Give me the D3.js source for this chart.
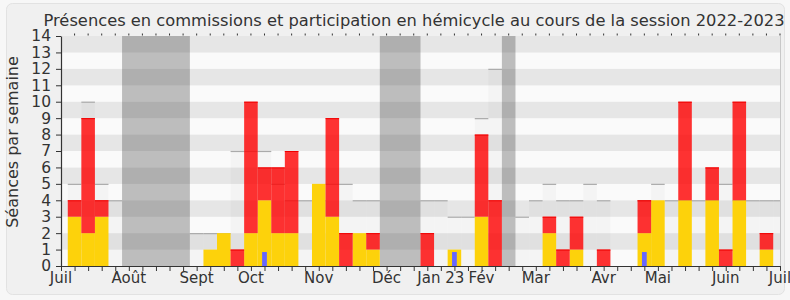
<!DOCTYPE html>
<html>
<head>
<meta charset="utf-8">
<script src="https://cdn.jsdelivr.net/npm/d3@7/dist/d3.min.js"></script>
<style>
  html, body { margin: 0; padding: 0; background: #f7f7f7; }
  svg { display: block; font-family: "DejaVu Sans", sans-serif; }
</style>
</head>
<body>
<svg id="chart" width="790" height="300"></svg>
<script>
// ---- data (one entry per week, index 0 = first week of July 2022) ----
const title = "Présences en commissions et participation en hémicycle au cours de la session 2022-2023";
const yLabel = "Séances par semaine";
const weeks = d3.range(54);
const commission = [0,3,2,3,0, 0,0,0,0,0, 0,1,2,0,2,4,2,2,0,5,3,0,2,1, 0,0,0, 0,0,1,0,3,0, 0, 0,0,2,0,1,0,0,0,0,2,4,0,4,0,4,0,4,0,1,0];
const hemicycle  = [0,1,7,1,0, 0,0,0,0,0, 0,0,0,1,8,2,4,5,0,0,6,2,0,1, 0,0,0, 2,0,0,0,5,4, 0, 0,0,1,1,2,0,1,0,0,2,0,0,6,0,2,1,6,0,1,0];
const participation = [0,0,0,0,0, 0,0,0,0,0, 0,0,0,0,0,0.85,0,0,0,0,0,0,0,0, 0,0,0, 0,0,0.85,0,0,0, 0, 0,0,0,0,0,0,0,0,0,0.85,0,0,0,0,0,0,0,0,0,0];
const mediane = [0,5,10,5,4, 0,0,0,0,0, 2,2,2,7,7,7,5,4,4,4,5,5,4,4, 0,0,0, 4,4,3,3,9,12, 0, 3,4,5,4,4,5,4,0,0,4,5,4,4,4,4,5,4,4,4,4];
const vacances = [[5,9],[24,26],[33,33]];
const monthLabels = ["Juil","Août","Sept","Oct","Nov","Déc","Jan 23","Fév","Mar","Avr","Mai","Juin","Juil"];
const monthWeeks  = [0,5,10,14,19,24,28,31,35,40,44,49,53];
const yMax = 14;

// ---- layout ----
const svg = d3.select("#chart");
const pLeft = 61, pRight = 780, pTop = 36, pBottom = 266;
const x = d3.scaleLinear().domain([0, 53]).range([pLeft, pRight]);
const y = d3.scaleLinear().domain([0, yMax]).range([pBottom, pTop]);
const w = x(1) - x(0);

// frame
svg.append("rect").attr("x", 6.5).attr("y", 3.5).attr("width", 778).attr("height", 291)
  .attr("rx", 6).attr("fill", "#f0f0f0").attr("stroke", "#e2e2e2");

svg.append("defs").append("clipPath").attr("id", "plotclip")
  .append("rect").attr("x", pLeft).attr("y", pTop).attr("width", pRight - pLeft).attr("height", pBottom - pTop);

const plot = svg.append("g").attr("clip-path", "url(#plotclip)");

// stripes
plot.selectAll("rect.stripe").data(d3.range(yMax)).join("rect")
  .attr("x", pLeft).attr("width", pRight - pLeft)
  .attr("y", k => y(k + 1)).attr("height", k => y(k) - y(k + 1))
  .attr("fill", k => k % 2 ? "#e6e6e6" : "#fafafa");

// median columns
const med = weeks.filter(i => mediane[i] > 0);
plot.selectAll("rect.med").data(med).join("rect")
  .attr("x", i => x(i) - w / 2).attr("width", w)
  .attr("y", i => y(mediane[i])).attr("height", i => y(0) - y(mediane[i]))
  .attr("fill", "rgba(0,0,0,0.025)");
plot.selectAll("line.med").data(med).join("line")
  .attr("x1", i => x(i) - w / 2).attr("x2", i => x(i) + w / 2)
  .attr("y1", i => y(mediane[i]) + 0.5).attr("y2", i => y(mediane[i]) + 0.5)
  .attr("stroke", "#aaaaaa").attr("stroke-width", 1.2);

// vacation bands
plot.selectAll("rect.vac").data(vacances).join("rect")
  .attr("x", d => x(d[0]) - w / 2).attr("width", d => (d[1] - d[0] + 1) * w)
  .attr("y", pTop).attr("height", pBottom - pTop)
  .attr("fill", "rgba(50,50,50,0.3)");

// commission (yellow)
const yc = weeks.filter(i => commission[i] > 0);
plot.selectAll("rect.com").data(yc).join("rect")
  .attr("x", i => x(i) - w / 2).attr("width", w)
  .attr("y", i => y(commission[i])).attr("height", i => y(0) - y(commission[i]))
  .attr("fill", "#fdd20b");

// hemicycle (red) stacked
const yh = weeks.filter(i => hemicycle[i] > 0);
plot.selectAll("rect.hem").data(yh).join("rect")
  .attr("x", i => x(i) - w / 2).attr("width", w)
  .attr("y", i => y(commission[i] + hemicycle[i])).attr("height", i => y(commission[i]) - y(commission[i] + hemicycle[i]))
  .attr("fill", "rgb(255,0,0)").attr("fill-opacity", 0.8);
plot.selectAll("line.hem").data(yh).join("line")
  .attr("x1", i => x(i) - w / 2).attr("x2", i => x(i) + w / 2)
  .attr("y1", i => y(commission[i] + hemicycle[i]) + 0.5).attr("y2", i => y(commission[i] + hemicycle[i]) + 0.5)
  .attr("stroke", "#f00000").attr("stroke-width", 1);

// participation (blue)
const yp = weeks.filter(i => participation[i] > 0);
plot.selectAll("rect.par").data(yp).join("rect")
  .attr("x", i => x(i) - w * 0.175).attr("width", w * 0.35)
  .attr("y", i => y(participation[i])).attr("height", i => y(0) - y(participation[i]))
  .attr("fill", "#6666ff");

// plot right border
svg.append("line").attr("x1", pRight + 0.5).attr("x2", pRight + 0.5).attr("y1", pTop).attr("y2", pBottom)
  .attr("stroke", "#c8c8c8");

// axes
const yAxis = d3.axisLeft(y).tickValues(d3.range(0, yMax + 1)).tickSize(5).tickSizeOuter(0);
const gy = svg.append("g").attr("transform", `translate(${pLeft},0)`).call(yAxis);
gy.select(".domain").attr("stroke", "#333").attr("stroke-width", 1.2);
gy.selectAll(".tick line").attr("stroke", "#333");
gy.selectAll(".tick text").attr("font-size", 15.5).attr("fill", "#333").attr("x", -10)
  .attr("font-family", "DejaVu Sans");

const xAxis = d3.axisBottom(x).tickValues(weeks).tickSize(5).tickSizeOuter(0).tickFormat("");
const gx = svg.append("g").attr("transform", `translate(0,${pBottom})`).call(xAxis);
gx.select(".domain").attr("stroke", "#333").attr("stroke-width", 1.2);
gx.selectAll(".tick line").attr("stroke", "#333");

// top small ticks
svg.append("g").selectAll("rect").data(weeks.slice(1)).join("rect")
  .attr("x", i => x(i) - 0.5).attr("width", 1).attr("y", 33.5).attr("height", 2)
  .attr("fill", "#333");

// month labels
svg.append("g").selectAll("text").data(monthWeeks).join("text")
  .attr("x", d => x(d)).attr("y", 283)
  .attr("text-anchor", "middle").attr("font-size", 15).attr("fill", "#333")
  .text((d, i) => monthLabels[i]);

// title
svg.append("text").attr("x", 414).attr("y", 26).attr("text-anchor", "middle")
  .attr("font-size", 16.3).attr("fill", "#333").text(title);

// y label
svg.append("text").attr("transform", "translate(18,142) rotate(-90)")
  .attr("text-anchor", "middle").attr("font-size", 16).attr("fill", "#333").text(yLabel);
</script>
</body>
</html>
